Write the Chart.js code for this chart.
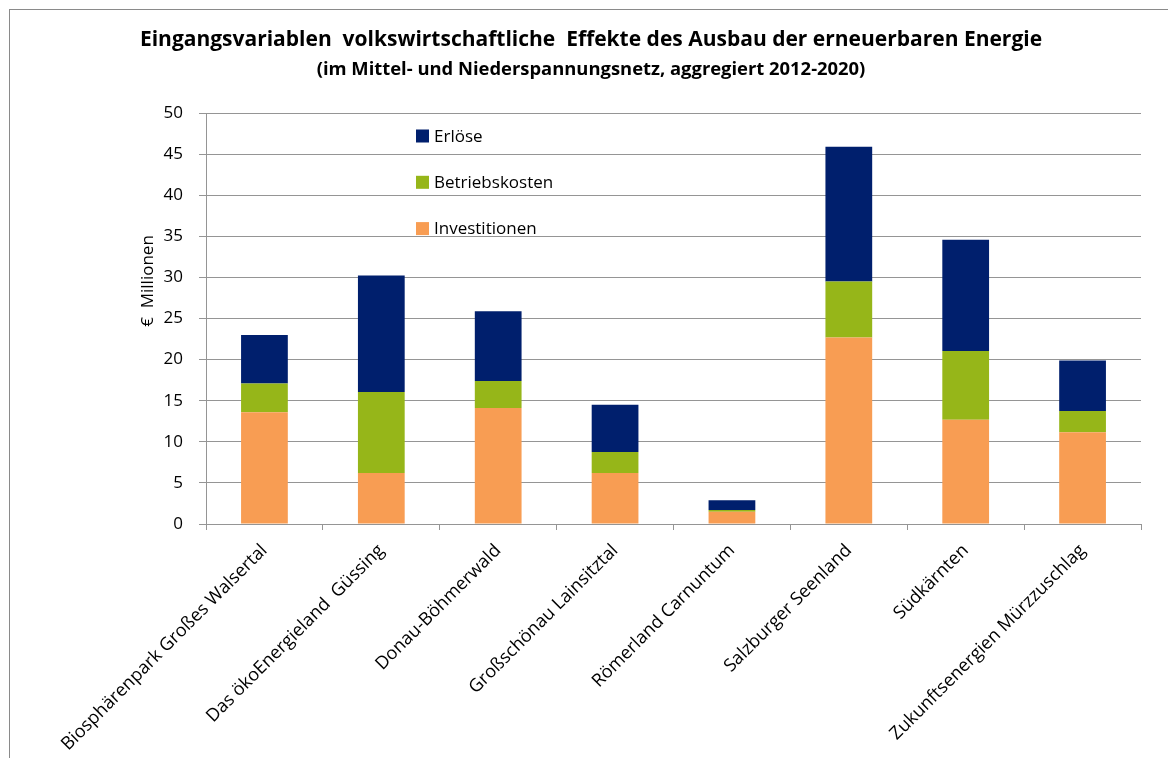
<!DOCTYPE html>
<html lang="de">
<head>
<meta charset="utf-8">
<title>Eingangsvariablen volkswirtschaftliche Effekte</title>
<script src="https://cdn.jsdelivr.net/npm/chart.js@4.4.1/dist/chart.umd.min.js"></script>
<style>
    html, body { margin: 0; padding: 0; background: #ffffff; }
    #chart { display: block; }
</style>
</head>
<body>
<canvas id="chart" width="1168" height="758"></canvas>
<script>
// Daten (Mio. €)
const regions = [
    'Biosphärenpark Großes Walsertal',
    'Das ökoEnergieland  Güssing',
    'Donau-Böhmerwald',
    'Großschönau Lainsitztal',
    'Römerland Carnuntum',
    'Salzburger Seenland',
    'Südkärnten',
    'Zukunftsenergien Mürzzuschlag'
];
const investitionen = [13.6, 6.2, 14.1, 6.2, 1.5, 22.7, 12.7, 11.15];
const betriebskosten = [3.5, 9.85, 3.3, 2.55, 0.2, 6.8, 8.35, 2.6];
const erloese = [5.9, 14.2, 8.5, 5.75, 1.2, 16.4, 13.55, 6.15];
const yTicks = [0, 5, 10, 15, 20, 25, 30, 35, 40, 45, 50];

const FONT = "'Open Sans', 'DejaVu Sans', sans-serif";
const GRID = '#959595';

// Rahmen, Achsentitel und Legende im Diagramm
const decorations = {
    id: 'decorations',
    beforeDraw(chart) {
        const ctx = chart.ctx;
        ctx.save();
        ctx.fillStyle = '#ffffff';
        ctx.fillRect(0, 0, chart.width, chart.height);
        ctx.strokeStyle = '#8a8a8a';
        ctx.lineWidth = 1;
        ctx.strokeRect(9.5, 9.5, chart.width + 20, chart.height + 20);
        ctx.restore();
    },
    afterDraw(chart) {
        const ctx = chart.ctx;
        ctx.save();
        // y-Achsentitel
        ctx.translate(148, 281);
        ctx.rotate(-Math.PI / 2);
        ctx.fillStyle = '#000000';
        ctx.font = '17px ' + FONT;
        ctx.textAlign = 'center';
        ctx.textBaseline = 'middle';
        ctx.fillText('€  Millionen', 0, 0);
        ctx.restore();

        // Legende (umgekehrte Reihenfolge wie in Excel)
        ctx.save();
        ctx.font = '17px ' + FONT;
        ctx.textBaseline = 'middle';
        const sets = chart.data.datasets.slice().reverse();
        sets.forEach((ds, i) => {
            const cy = 136 + i * 46.3;
            ctx.fillStyle = ds.backgroundColor;
            ctx.fillRect(416, cy - 6.5, 13, 13);
            ctx.fillStyle = '#000000';
            ctx.fillText(ds.label, 434, cy + 1);
        });
        ctx.restore();
    }
};

new Chart(document.getElementById('chart'), {
    type: 'bar',
    data: {
        labels: regions,
        datasets: [
            { label: 'Investitionen', data: investitionen, backgroundColor: '#f89d53' },
            { label: 'Betriebskosten', data: betriebskosten, backgroundColor: '#96b619' },
            { label: 'Erlöse', data: erloese, backgroundColor: '#001f6d' }
        ]
    },
    options: {
        responsive: false,
        animation: false,
        devicePixelRatio: 1,
        layout: { padding: { left: 41, right: 27, top: 0, bottom: 0 } },
        datasets: {
            bar: { barPercentage: 0.4, categoryPercentage: 1.0 }
        },
        plugins: {
            legend: { display: false },
            tooltip: { enabled: false },
            title: {
                display: true,
                text: 'Eingangsvariablen  volkswirtschaftliche  Effekte des Ausbau der erneuerbaren Energie',
                color: '#000000',
                font: { family: FONT, size: 21, weight: 'bold', lineHeight: 1.2 },
                padding: { top: 27.4, bottom: 6.4 }
            },
            subtitle: {
                display: true,
                text: '(im Mittel- und Niederspannungsnetz, aggregiert 2012-2020)',
                color: '#000000',
                font: { family: FONT, size: 18.4, weight: 'bold', lineHeight: 1.2 },
                padding: { top: 0, bottom: 32 }
            }
        },
        scales: {
            x: {
                stacked: true,
                afterFit(scale) { scale.height = 758 - 524; },
                grid: {
                    offset: true,
                    drawOnChartArea: false,
                    drawTicks: true,
                    tickLength: 6,
                    color: GRID
                },
                border: { color: GRID, width: 1 },
                ticks: {
                    color: '#000000',
                    font: { family: FONT, size: 18 },
                    minRotation: 45,
                    maxRotation: 45,
                    autoSkip: false,
                    padding: 10
                }
            },
            y: {
                stacked: true,
                min: 0,
                max: 50,
                afterFit(scale) { scale.width = 206 - 41; },
                afterBuildTicks(scale) { scale.ticks = yTicks.map(v => ({ value: v })); },
                grid: {
                    color: GRID,
                    lineWidth: 1,
                    tickLength: 7
                },
                border: { color: GRID, width: 1 },
                ticks: {
                    color: '#000000',
                    font: { family: FONT, size: 17 },
                    padding: 16
                }
            }
        }
    },
    plugins: [decorations]
});
</script>
</body>
</html>
